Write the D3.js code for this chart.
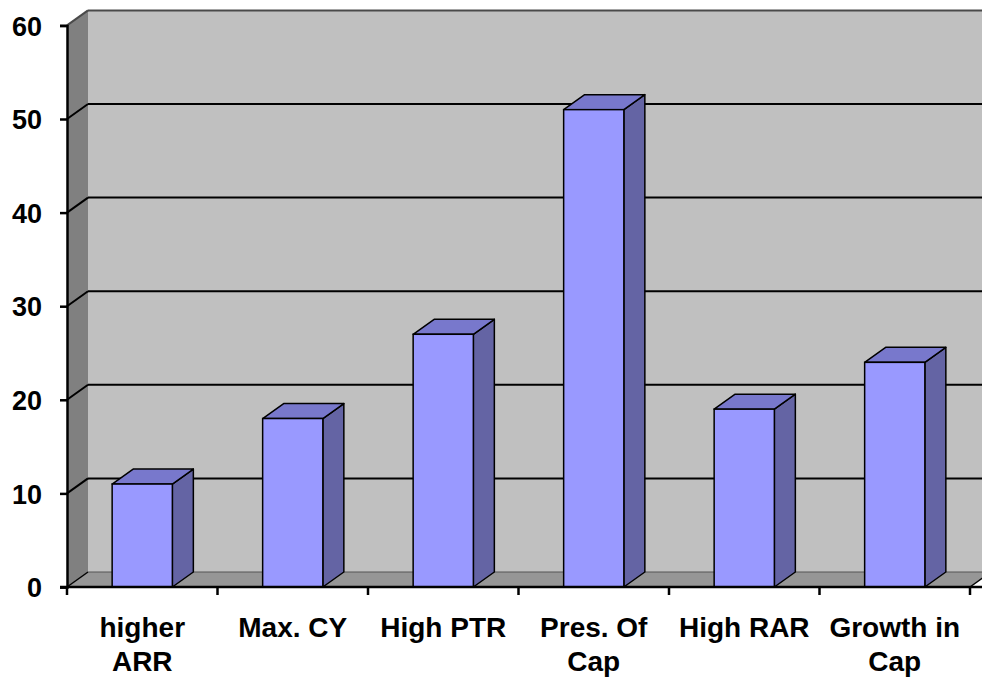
<!DOCTYPE html>
<html>
<head>
<meta charset="utf-8">
<script src="https://cdn.jsdelivr.net/npm/d3@7"></script>
<style>
  html, body { margin: 0; padding: 0; background: #ffffff; }
  svg { display: block; }
  text { font-family: "Liberation Sans", Arial, sans-serif; font-weight: bold; fill: #000; }
</style>
</head>
<body>
<svg id="chart" width="982" height="677"></svg>
<script>
// Survey results: share of respondents per financing objective
const categories = ["higher ARR", "Max. CY", "High PTR", "Pres. Of Cap", "High RAR", "Growth in Cap"];
const categoryLines = [["higher", "ARR"], ["Max. CY"], ["High PTR"], ["Pres. Of", "Cap"], ["High RAR"], ["Growth in", "Cap"]];
const values = [11, 18, 27, 51, 19, 24];
const yTicks = [0, 10, 20, 30, 40, 50, 60];

const W = 982, H = 677;
const svg = d3.select("#chart");

// plot frame (front plane) and 3D depth offset
const plotLeft = 67, plotRight = 970, plotBottom = 587, plotTop = 25.4;
const DX = 21, DY = -15;

const x = d3.scaleBand().domain(categories).range([plotLeft, plotRight]).padding(0);
const y = d3.scaleLinear().domain([0, 60]).range([plotBottom, plotTop]);

const wallColor = "#c0c0c0", sideColor = "#808080", floorColor = "#969696";
const face = "#9999ff", topFace = "#7878cc", sideFace = "#6464a4";

const poly = pts => pts.map(p => p.join(",")).join(" ");

// back wall
svg.append("polygon")
  .attr("points", poly([[plotLeft + DX, y(60) + DY], [W + 40, y(60) + DY], [W + 40, y(0) + DY], [plotLeft + DX, y(0) + DY]]))
  .attr("fill", wallColor);

// side wall
svg.append("polygon")
  .attr("points", poly([[plotLeft, y(60)], [plotLeft + DX, y(60) + DY], [plotLeft + DX, y(0) + DY], [plotLeft, y(0)]]))
  .attr("fill", sideColor);

// floor
svg.append("polygon")
  .attr("points", poly([[plotLeft, y(0)], [plotLeft + DX, y(0) + DY], [plotRight + DX, y(0) + DY], [plotRight, y(0)]]))
  .attr("fill", floorColor);

// gridlines: diagonal on the side wall, horizontal on the back wall
const grid = svg.append("g");
yTicks.filter(t => t > 0).forEach(t => {
  const col = t === 60 ? "#4a4a4a" : "#000";
  grid.append("line")
    .attr("x1", plotLeft).attr("y1", y(t))
    .attr("x2", plotLeft + DX).attr("y2", y(t) + DY)
    .attr("stroke", col).attr("stroke-width", 2);
  grid.append("line")
    .attr("x1", plotLeft + DX).attr("y1", y(t) + DY)
    .attr("x2", W + 40).attr("y2", y(t) + DY)
    .attr("stroke", col).attr("stroke-width", 2);
});
// floor edges
grid.append("line")
  .attr("x1", plotLeft).attr("y1", y(0)).attr("x2", plotLeft + DX).attr("y2", y(0) + DY)
  .attr("stroke", "#000").attr("stroke-width", 1.5);
grid.append("line")
  .attr("x1", plotLeft + DX).attr("y1", y(0) + DY).attr("x2", W + 40).attr("y2", y(0) + DY)
  .attr("stroke", "#555").attr("stroke-width", 1);
grid.append("line")
  .attr("x1", plotRight).attr("y1", y(0)).attr("x2", plotRight + DX).attr("y2", y(0) + DY)
  .attr("stroke", "#000").attr("stroke-width", 1.5);

// 3D columns
const bw = x.bandwidth() * 0.4;
const bars = svg.append("g").selectAll("g").data(values).join("g");
bars.each(function (v, i) {
  const g = d3.select(this);
  const x0 = x(categories[i]) + (x.bandwidth() - bw) / 2, x1 = x0 + bw;
  const yt = y(v), yb = y(0);
  g.append("polygon")
    .attr("points", poly([[x1, yt], [x1 + DX, yt + DY], [x1 + DX, yb + DY], [x1, yb]]))
    .attr("fill", sideFace).attr("stroke", "#000").attr("stroke-width", 1.5).attr("stroke-linejoin", "round");
  g.append("polygon")
    .attr("points", poly([[x0, yt], [x0 + DX, yt + DY], [x1 + DX, yt + DY], [x1, yt]]))
    .attr("fill", topFace).attr("stroke", "#000").attr("stroke-width", 1.5).attr("stroke-linejoin", "round");
  g.append("rect")
    .attr("x", x0).attr("y", yt).attr("width", bw).attr("height", yb - yt)
    .attr("fill", face).attr("stroke", "#000").attr("stroke-width", 1.5);
});

// value axis
const yAxis = svg.append("g").attr("transform", `translate(${plotLeft},0)`)
  .call(d3.axisLeft(y).tickValues(yTicks).tickSize(7).tickPadding(18));
yAxis.select(".domain").attr("stroke", "#000").attr("stroke-width", 2.5);
yAxis.selectAll(".tick line").attr("stroke", "#000").attr("stroke-width", 2.5);
yAxis.selectAll(".tick text").attr("font-size", 27).attr("font-family", null).attr("dy", "0.36em");

// category axis
const xAxis = svg.append("g").attr("transform", `translate(0,${plotBottom})`);
xAxis.append("line").attr("x1", plotLeft - 7).attr("x2", W + 10).attr("y1", 0).attr("y2", 0)
  .attr("stroke", "#000").attr("stroke-width", 2.5);
const boundaries = categories.map(c => x(c)).concat([plotRight]);
xAxis.selectAll("line.tk").data(boundaries).join("line").attr("class", "tk")
  .attr("x1", d => d).attr("x2", d => d).attr("y1", 0).attr("y2", 8)
  .attr("stroke", "#000").attr("stroke-width", 2.5);

const labels = xAxis.selectAll("text").data(categoryLines).join("text")
  .attr("text-anchor", "middle").attr("font-size", 28)
  .attr("transform", (d, i) => `translate(${x(categories[i]) + x.bandwidth() / 2},50)`);
labels.selectAll("tspan").data(d => d).join("tspan")
  .attr("x", 0).attr("y", (d, j) => j * 34).text(d => d);
</script>
</body>
</html>
